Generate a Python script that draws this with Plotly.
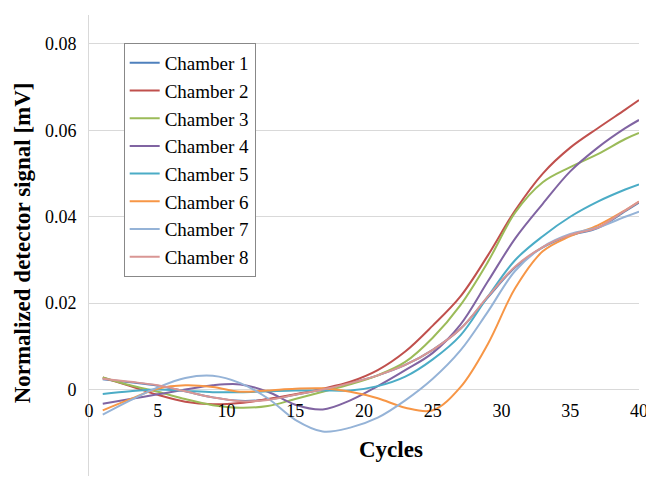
import plotly.graph_objects as go

cycles = [1, 3, 5, 7, 9, 11, 13, 15, 17, 19, 21, 23, 25, 27, 29, 31, 33, 35, 37, 39, 40]

chamber1 = [0.0024, 0.0017, 0.0009, -0.0004, -0.0018, -0.0026, -0.0023, -0.0012, 0.0000, 0.0015, 0.0033, 0.0057, 0.0092, 0.0140, 0.0213, 0.0283, 0.0329, 0.0357, 0.0374, 0.0413, 0.0433]
chamber2 = [0.0028, 0.0008, -0.0012, -0.0028, -0.0034, -0.0031, -0.0022, -0.0011, 0.0002, 0.0018, 0.0045, 0.0088, 0.0148, 0.0215, 0.0310, 0.0415, 0.0500, 0.0560, 0.0605, 0.0648, 0.0670]
chamber3 = [0.0028, 0.0010, -0.0005, -0.0022, -0.0036, -0.0042, -0.0038, -0.0022, -0.0005, 0.0012, 0.0033, 0.0064, 0.0120, 0.0195, 0.0295, 0.0410, 0.0480, 0.0515, 0.0545, 0.0580, 0.0594]
chamber4 = [-0.0033, -0.0022, -0.0011, 0.0000, 0.0010, 0.0012, -0.0005, -0.0035, -0.0046, -0.0025, 0.0008, 0.0045, 0.0085, 0.0150, 0.0250, 0.0350, 0.0430, 0.0505, 0.0560, 0.0605, 0.0624]
chamber5 = [-0.0010, -0.0004, 0.0000, -0.0003, -0.0006, -0.0006, -0.0004, -0.0002, -0.0002, -0.0002, 0.0008, 0.0030, 0.0070, 0.0125, 0.0215, 0.0300, 0.0355, 0.0400, 0.0435, 0.0463, 0.0475]
chamber6 = [-0.0048, -0.0022, 0.0002, 0.0010, 0.0006, -0.0005, -0.0002, 0.0002, 0.0003, -0.0005, -0.0020, -0.0042, -0.0048, 0.0005, 0.0105, 0.0235, 0.0320, 0.0355, 0.0380, 0.0415, 0.0435]
chamber7 = [-0.0058, -0.0025, 0.0005, 0.0027, 0.0032, 0.0015, -0.0020, -0.0070, -0.0097, -0.0088, -0.0065, -0.0025, 0.0025, 0.0090, 0.0180, 0.0275, 0.0330, 0.0360, 0.0375, 0.0400, 0.0412]
chamber8 = [0.0025, 0.0018, 0.0010, -0.0004, -0.0018, -0.0027, -0.0024, -0.0012, 0.0000, 0.0015, 0.0033, 0.0057, 0.0092, 0.0140, 0.0215, 0.0285, 0.0330, 0.0358, 0.0375, 0.0415, 0.0435]

names = ["Chamber 1", "Chamber 2", "Chamber 3", "Chamber 4",
         "Chamber 5", "Chamber 6", "Chamber 7", "Chamber 8"]
series = [chamber1, chamber2, chamber3, chamber4, chamber5, chamber6, chamber7, chamber8]
colors = ["#4F81BD", "#C0504D", "#9BBB59", "#8064A2",
          "#4BACC6", "#F79646", "#95B3D7", "#D99694"]

y_ticks = [-0.02, 0, 0.02, 0.04, 0.06, 0.08]
y_tick_text = ["-0.02", "0", "0.02", "0.04", "0.06", "0.08"]
x_ticks = [0, 5, 10, 15, 20, 25, 30, 35, 40]

FONT = "Times New Roman, Liberation Serif, Times, serif"

# page has an 8px body margin; figure is sized/offset to compensate
W, H = 646, 474
OFF = 8
L, R_EDGE, T, B_EDGE = 89 - OFF, 644 - OFF, 15 - OFF, 476.5 - OFF
PW, PH = R_EDGE - L, B_EDGE - T

fig = go.Figure()
for name, vals, col in zip(names, series, colors):
    fig.add_trace(go.Scatter(
        x=cycles, y=vals, name=name, mode="lines",
        line=dict(color=col, width=2, shape="spline", smoothing=1.0),
    ))

y_min, y_max = -0.02, 0.0867
x_pos = (0 - y_min) / (y_max - y_min)

def px_x(px):
    return (px - OFF - L) / PW

def px_y(py):
    return (B_EDGE - (py - OFF)) / PH

fig.update_layout(
    width=W, height=H,
    margin=dict(l=L, r=W - R_EDGE, t=T, b=H - B_EDGE),
    paper_bgcolor="white", plot_bgcolor="white",
    font=dict(family=FONT, size=18, color="#000000"),
    showlegend=True,
    legend=dict(
        x=px_x(124), y=px_y(43), xanchor="left", yanchor="top",
        bgcolor="white", bordercolor="#888888", borderwidth=1,
        font=dict(family=FONT, size=19, color="#000000"),
        itemwidth=30,
    ),
    xaxis=dict(
        range=[0, 40], tickvals=x_ticks, showgrid=False, zeroline=False,
        showline=False, anchor="free", position=x_pos, ticks="",
        ticklabelstandoff=8,
        tickfont=dict(family=FONT, size=18, color="#000000"),
    ),
    yaxis=dict(
        range=[y_min, y_max], tickvals=y_ticks, ticktext=y_tick_text,
        showgrid=True, gridcolor="#D9D9D9", gridwidth=1,
        zeroline=False, showline=True, linecolor="#D9D9D9", linewidth=1,
        ticks="", ticklabelstandoff=8,
        tickfont=dict(family=FONT, size=18, color="#000000"),
    ),
)
fig.add_annotation(
    text="<b>Cycles</b>", x=px_x(394), xref="paper", y=px_y(450), yref="paper",
    xanchor="center", yanchor="middle", showarrow=False,
    font=dict(family=FONT, size=23, color="#000000"),
)
fig.add_annotation(
    text="<b>Normalized detector signal [mV]</b>", textangle=-90,
    x=px_x(22), xref="paper", y=px_y(243), yref="paper",
    xanchor="center", yanchor="middle", showarrow=False,
    font=dict(family=FONT, size=23, color="#000000"),
)

fig.write_html("out.html")
